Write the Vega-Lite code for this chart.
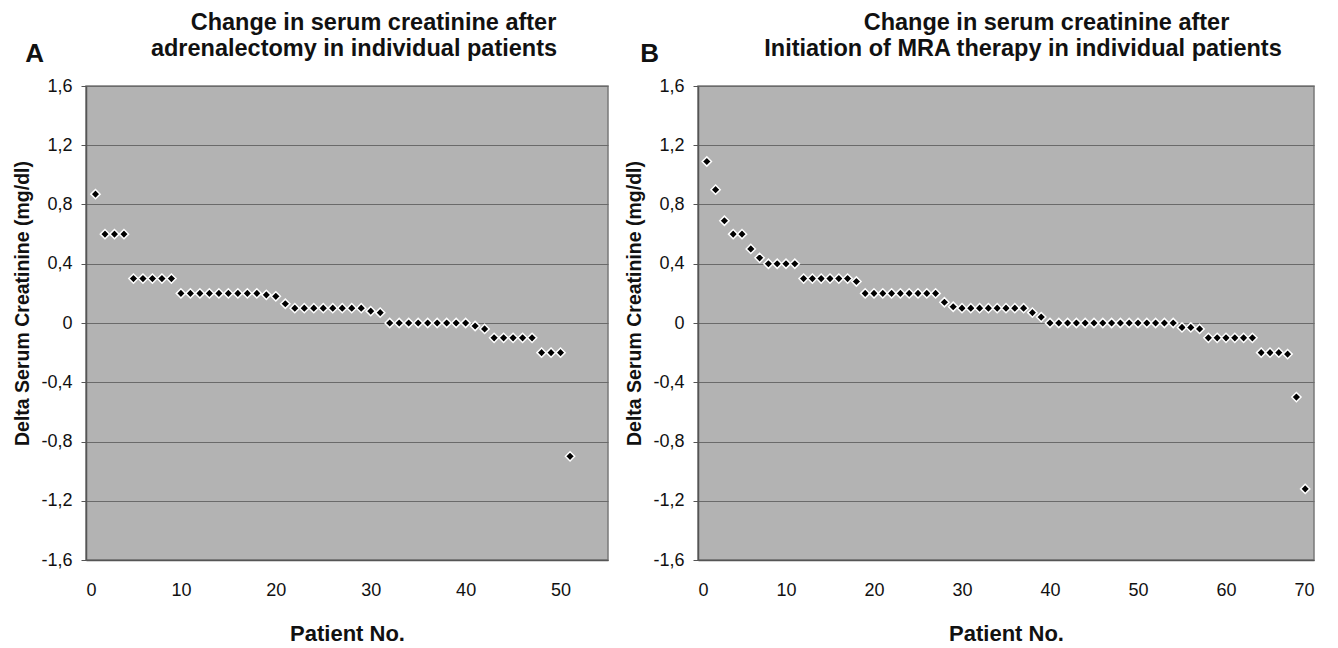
{
  "$schema": "https://vega.github.io/schema/vega-lite/v6.json",
  "background": "white",
  "padding": {"left": 12, "top": 11, "right": 5, "bottom": 5},
  "spacing": 15,
  "config": {
    "locale": {"number": {"decimal": ",", "thousands": ".", "grouping": [3], "currency": ["", " €"], "minus": "-"}},
    "font": "Liberation Sans",
    "view": {"fill": "#b3b3b3", "stroke": "#7a7a7a", "strokeWidth": 1.5},
    "axis": {
      "labelFont": "Liberation Sans", "labelFontSize": 18, "labelColor": "#111111",
      "titleFont": "Liberation Sans", "titleFontWeight": "bold", "titleColor": "#111111",
      "domainColor": "#555555", "domainWidth": 1.5, "tickColor": "#555555"
    },
    "axisY": {"grid": true, "gridColor": "#6a6a6a", "gridWidth": 1, "gridOpacity": 1, "ticks": true, "tickSize": 5, "labelPadding": 9, "titlePadding": 8, "titleFontSize": 19.5, "titleY": 217},
    "axisX": {"grid": false, "ticks": false, "labelPadding": 21, "titlePadding": 24, "titleFontSize": 22},
    "title": {"font": "Liberation Sans", "fontSize": 23.5, "fontWeight": "bold", "color": "#111111", "anchor": "middle"}
  },
  "datasets": {
    "a": [
      {"patient": 1, "delta": 0.87}, {"patient": 2, "delta": 0.6}, {"patient": 3, "delta": 0.6}, {"patient": 4, "delta": 0.6},
      {"patient": 5, "delta": 0.3}, {"patient": 6, "delta": 0.3}, {"patient": 7, "delta": 0.3}, {"patient": 8, "delta": 0.3}, {"patient": 9, "delta": 0.3},
      {"patient": 10, "delta": 0.2}, {"patient": 11, "delta": 0.2}, {"patient": 12, "delta": 0.2}, {"patient": 13, "delta": 0.2}, {"patient": 14, "delta": 0.2},
      {"patient": 15, "delta": 0.2}, {"patient": 16, "delta": 0.2}, {"patient": 17, "delta": 0.2}, {"patient": 18, "delta": 0.2}, {"patient": 19, "delta": 0.19},
      {"patient": 20, "delta": 0.18}, {"patient": 21, "delta": 0.13}, {"patient": 22, "delta": 0.1}, {"patient": 23, "delta": 0.1}, {"patient": 24, "delta": 0.1},
      {"patient": 25, "delta": 0.1}, {"patient": 26, "delta": 0.1}, {"patient": 27, "delta": 0.1}, {"patient": 28, "delta": 0.1}, {"patient": 29, "delta": 0.1},
      {"patient": 30, "delta": 0.08}, {"patient": 31, "delta": 0.07}, {"patient": 32, "delta": 0}, {"patient": 33, "delta": 0}, {"patient": 34, "delta": 0},
      {"patient": 35, "delta": 0}, {"patient": 36, "delta": 0}, {"patient": 37, "delta": 0}, {"patient": 38, "delta": 0}, {"patient": 39, "delta": 0},
      {"patient": 40, "delta": 0}, {"patient": 41, "delta": -0.02}, {"patient": 42, "delta": -0.04}, {"patient": 43, "delta": -0.1}, {"patient": 44, "delta": -0.1},
      {"patient": 45, "delta": -0.1}, {"patient": 46, "delta": -0.1}, {"patient": 47, "delta": -0.1}, {"patient": 48, "delta": -0.2}, {"patient": 49, "delta": -0.2},
      {"patient": 50, "delta": -0.2}, {"patient": 51, "delta": -0.9}
    ],
    "b": [
      {"patient": 1, "delta": 1.09}, {"patient": 2, "delta": 0.9}, {"patient": 3, "delta": 0.69}, {"patient": 4, "delta": 0.6}, {"patient": 5, "delta": 0.6},
      {"patient": 6, "delta": 0.5}, {"patient": 7, "delta": 0.44}, {"patient": 8, "delta": 0.4}, {"patient": 9, "delta": 0.4}, {"patient": 10, "delta": 0.4},
      {"patient": 11, "delta": 0.4}, {"patient": 12, "delta": 0.3}, {"patient": 13, "delta": 0.3}, {"patient": 14, "delta": 0.3}, {"patient": 15, "delta": 0.3},
      {"patient": 16, "delta": 0.3}, {"patient": 17, "delta": 0.3}, {"patient": 18, "delta": 0.28}, {"patient": 19, "delta": 0.2}, {"patient": 20, "delta": 0.2},
      {"patient": 21, "delta": 0.2}, {"patient": 22, "delta": 0.2}, {"patient": 23, "delta": 0.2}, {"patient": 24, "delta": 0.2}, {"patient": 25, "delta": 0.2},
      {"patient": 26, "delta": 0.2}, {"patient": 27, "delta": 0.2}, {"patient": 28, "delta": 0.14}, {"patient": 29, "delta": 0.11}, {"patient": 30, "delta": 0.1},
      {"patient": 31, "delta": 0.1}, {"patient": 32, "delta": 0.1}, {"patient": 33, "delta": 0.1}, {"patient": 34, "delta": 0.1}, {"patient": 35, "delta": 0.1},
      {"patient": 36, "delta": 0.1}, {"patient": 37, "delta": 0.1}, {"patient": 38, "delta": 0.07}, {"patient": 39, "delta": 0.04}, {"patient": 40, "delta": 0},
      {"patient": 41, "delta": 0}, {"patient": 42, "delta": 0}, {"patient": 43, "delta": 0}, {"patient": 44, "delta": 0}, {"patient": 45, "delta": 0},
      {"patient": 46, "delta": 0}, {"patient": 47, "delta": 0}, {"patient": 48, "delta": 0}, {"patient": 49, "delta": 0}, {"patient": 50, "delta": 0},
      {"patient": 51, "delta": 0}, {"patient": 52, "delta": 0}, {"patient": 53, "delta": 0}, {"patient": 54, "delta": 0}, {"patient": 55, "delta": -0.03},
      {"patient": 56, "delta": -0.03}, {"patient": 57, "delta": -0.04}, {"patient": 58, "delta": -0.1}, {"patient": 59, "delta": -0.1}, {"patient": 60, "delta": -0.1},
      {"patient": 61, "delta": -0.1}, {"patient": 62, "delta": -0.1}, {"patient": 63, "delta": -0.1}, {"patient": 64, "delta": -0.2}, {"patient": 65, "delta": -0.2},
      {"patient": 66, "delta": -0.2}, {"patient": 67, "delta": -0.21}, {"patient": 68, "delta": -0.5}, {"patient": 69, "delta": -1.12}
    ]
  },
  "hconcat": [
    {
      "title": {"text": "A", "anchor": "start", "frame": "bounds", "fontSize": 26, "offset": 0, "dx": 13, "dy": 56},
      "vconcat": [
        {
          "title": {"text": "Change in serum creatinine after", "anchor": "middle", "frame": "bounds", "offset": 1, "dx": 63},
          "vconcat": [
            {
              "width": 522,
              "height": 474,
              "title": {"text": "adrenalectomy in individual patients", "anchor": "middle", "frame": "group", "offset": 17, "dx": 7},
              "data": {"name": "a"},
              "mark": {"type": "point", "shape": "diamond", "filled": true, "color": "black", "stroke": "white", "strokeWidth": 1.5, "size": 85, "opacity": 1},
              "encoding": {
                "x": {"field": "patient", "type": "quantitative", "title": "Patient No.", "scale": {"domain": [0, 55], "nice": false}, "axis": {"values": [0, 10, 20, 30, 40, 50]}},
                "y": {"field": "delta", "type": "quantitative", "title": "Delta Serum Creatinine (mg/dl)", "scale": {"domain": [-1.6, 1.6], "nice": false}, "axis": {"values": [-1.6, -1.2, -0.8, -0.4, 0, 0.4, 0.8, 1.2, 1.6], "format": ".1~f"}}
              }
            }
          ]
        }
      ]
    },
    {
      "title": {"text": "B", "anchor": "start", "frame": "bounds", "fontSize": 26, "offset": 0, "dx": 16, "dy": 56},
      "vconcat": [
        {
          "title": {"text": "Change in serum creatinine after", "anchor": "middle", "frame": "bounds", "offset": 1, "dx": 77},
          "vconcat": [
            {
              "width": 616,
              "height": 474,
              "title": {"text": "Initiation of MRA therapy in individual patients", "anchor": "middle", "frame": "group", "offset": 17, "dx": 17},
              "data": {"name": "b"},
              "mark": {"type": "point", "shape": "diamond", "filled": true, "color": "black", "stroke": "white", "strokeWidth": 1.5, "size": 85, "opacity": 1},
              "encoding": {
                "x": {"field": "patient", "type": "quantitative", "title": "Patient No.", "scale": {"domain": [0, 70], "nice": false}, "axis": {"values": [0, 10, 20, 30, 40, 50, 60, 70]}},
                "y": {"field": "delta", "type": "quantitative", "title": "Delta Serum Creatinine (mg/dl)", "scale": {"domain": [-1.6, 1.6], "nice": false}, "axis": {"values": [-1.6, -1.2, -0.8, -0.4, 0, 0.4, 0.8, 1.2, 1.6], "format": ".1~f"}}
              }
            }
          ]
        }
      ]
    }
  ]
}
